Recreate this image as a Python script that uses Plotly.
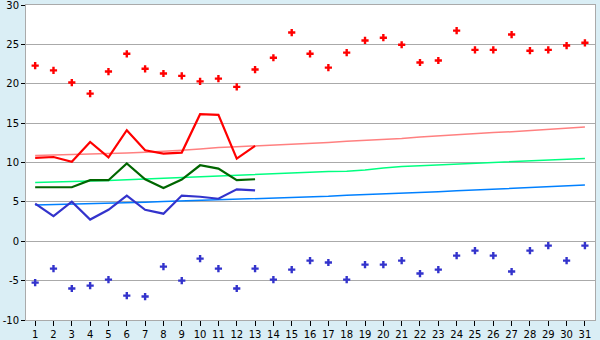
import plotly.graph_objects as go

days = list(range(1, 32))
tick_labels = [str(d) for d in days]

record_max = [22.3, 21.7, 20.15, 18.75, 21.55, 23.8, 21.9, 21.3, 21.0, 20.3,
              20.65, 19.6, 21.8, 23.3, 26.5, 23.8, 22.05, 23.95, 25.5, 25.85,
              24.95, 22.7, 22.95, 26.75, 24.3, 24.3, 26.25, 24.2, 24.3, 24.85, 25.2]
record_min = [-5.25, -3.47, -6.0, -5.63, -4.87, -6.9, -7.02, -3.22, -5.0, -2.2,
              -3.47, -6.0, -3.47, -4.87, -3.6, -2.46, -2.7, -4.87, -2.97, -2.97,
              -2.46, -4.1, -3.6, -1.82, -1.19, -1.82, -3.85, -1.19, -0.55, -2.46, -0.55]

obs_days = list(range(1, 14))
obs_max = [10.58, 10.7, 10.08, 12.6, 10.64, 14.1, 11.56, 11.13, 11.26, 16.13, 16.04, 10.5, 12.1]
obs_mean = [6.86, 6.86, 6.86, 7.75, 7.75, 9.87, 7.87, 6.77, 7.83, 9.65, 9.23, 7.75, 7.87]
obs_min = [4.78, 3.2, 5.02, 2.75, 4.0, 5.8, 4.0, 3.5, 5.8, 5.65, 5.4, 6.6, 6.45]

normal_max = [10.9, 10.95, 11.0, 11.05, 11.1, 11.2, 11.3, 11.4, 11.55, 11.7,
              11.9, 12.0, 12.1, 12.2, 12.35, 12.45, 12.55, 12.7, 12.8, 12.95,
              13.05, 13.25, 13.4, 13.55, 13.65, 13.8, 13.9, 14.05, 14.2, 14.35, 14.5]
normal_mean = [7.45, 7.5, 7.55, 7.6, 7.7, 7.8, 7.9, 8.0, 8.1, 8.2,
               8.3, 8.4, 8.5, 8.6, 8.7, 8.75, 8.85, 8.9, 9.05, 9.3,
               9.5, 9.6, 9.7, 9.75, 9.85, 9.95, 10.05, 10.2, 10.3, 10.4, 10.5]
normal_min = [4.6, 4.65, 4.7, 4.75, 4.8, 4.88, 4.95, 5.05, 5.12, 5.2,
              5.28, 5.35, 5.42, 5.5, 5.56, 5.62, 5.7, 5.85, 5.93, 6.0,
              6.05, 6.15, 6.3, 6.4, 6.5, 6.65, 6.72, 6.82, 6.92, 7.02, 7.15]

y_ticks = [-10, -5, 0, 5, 10, 15, 20, 25, 30]
y_tick_labels = ["-10", "-5", "0", "5", "10", "15", "20", "25", "30"]

fig = go.Figure()

def line(x, y, color, width):
    fig.add_trace(go.Scatter(x=x, y=y, mode="lines",
                             line=dict(color=color, width=width),
                             hoverinfo="skip", showlegend=False))

line(days, normal_max, "#ff8080", 1.5)
line(days, normal_mean, "#00ff80", 1.5)
line(days, normal_min, "#0080ff", 1.5)
line(obs_days, obs_max, "#ff0000", 2.2)
line(obs_days, obs_mean, "#006600", 2.2)
line(obs_days, obs_min, "#3333cc", 2.2)

fig.add_trace(go.Scatter(x=days, y=record_max, mode="markers",
                         marker=dict(symbol="cross", size=6, color="#ff0000", line=dict(width=0)),
                         hoverinfo="skip", showlegend=False))
fig.add_trace(go.Scatter(x=days, y=record_min, mode="markers",
                         marker=dict(symbol="cross", size=6, color="#3333cc", line=dict(width=0)),
                         hoverinfo="skip", showlegend=False))

fig.update_layout(
    width=600, height=340,
    margin=dict(l=26, r=5, t=5, b=20, pad=0),
    paper_bgcolor="#daeef5",
    plot_bgcolor="#ffffff",
    font=dict(family="DejaVu Sans", size=10, color="#000000"),
    xaxis=dict(range=[0.5, 31.55], tickmode="array", tickvals=days, ticktext=tick_labels,
               showgrid=False, zeroline=False, showline=True, linecolor="#aaaaaa",
               linewidth=1, mirror=True, ticks="outside", ticklen=5, tickcolor="#000000",
               tickfont=dict(size=10), automargin=False),
    yaxis=dict(range=[-10, 30], tickmode="array", tickvals=y_ticks, ticktext=y_tick_labels,
               showgrid=True, gridcolor="#aaaaaa", gridwidth=1, zeroline=False,
               showline=True, linecolor="#aaaaaa", linewidth=1, mirror=True,
               ticks="outside", ticklen=4, tickcolor="#000000",
               tickfont=dict(size=10), automargin=False, ticklabeloverflow="allow"),
)

fig.write_html("out.html")
